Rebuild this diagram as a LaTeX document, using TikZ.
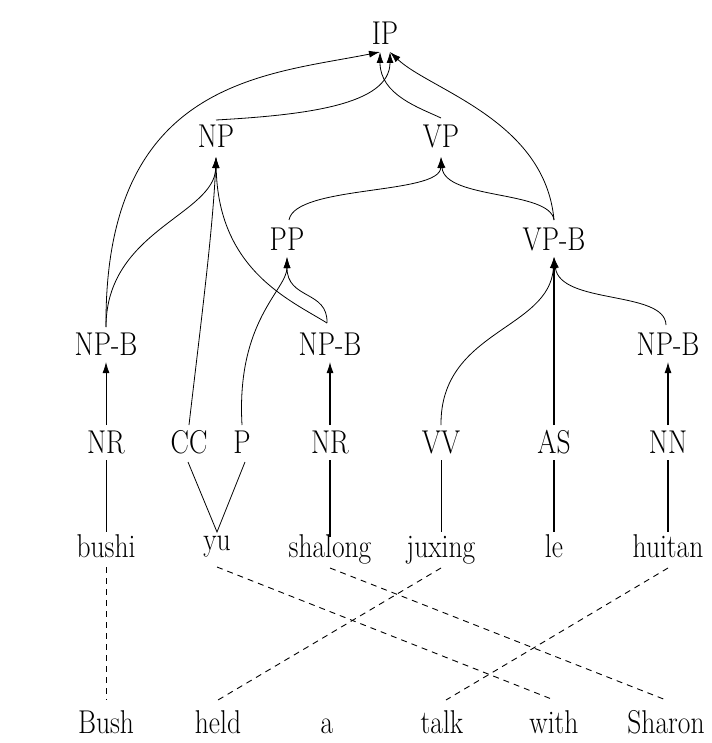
\documentclass[tikz,border=0pt]{standalone}
\usepackage{graphicx}
\usetikzlibrary{arrows.meta}
\newcommand\stx[1]{\scalebox{1}[1.2]{#1}}
\tikzset{
  lab/.style={anchor=base, inner sep=0pt, font=\fontsize{27.5}{32}\selectfont},
  tr/.style={line width=0.8pt, black},
  arr/.style={tr, -{Latex[length=11pt,width=7pt]}},
  vline/.style={line width=1.1pt, black},
  al/.style={line width=0.9pt, black, dash pattern=on 6pt off 5pt},
}
\begin{document}
\begin{tikzpicture}[x=1pt,y=-1pt]
\useasboundingbox (0,0) rectangle (711,743);
% tree labels
\node[lab] (ip)   at (385,45)  {\stx{IP}};
\node[lab] (np)   at (216,148) {\stx{NP}};
\node[lab] (vp)   at (441,148) {\stx{VP}};
\node[lab] (pp)   at (287,250) {\stx{PP}};
\node[lab] (vpb)  at (554,250) {\stx{VP-B}};
\node[lab] (npbA) at (106,355) {\stx{NP-B}};
\node[lab] (npbB) at (330,355) {\stx{NP-B}};
\node[lab] (npbC) at (668,355) {\stx{NP-B}};
% POS
\node[lab] (nrA) at (106,453) {\stx{NR}};
\node[lab] (cc)  at (189,453) {\stx{CC}};
\node[lab] (pq)  at (242,453) {\stx{P}};
\node[lab] (nrB) at (330,453) {\stx{NR}};
\node[lab] (vv)  at (441,453) {\stx{VV}};
\node[lab] (as)  at (554,453) {\stx{AS}};
\node[lab] (nn)  at (668,453) {\stx{NN}};
% words
\node[lab] (bushi)   at (106,557) {\stx{bushi}};
\node[lab] (yu)      at (217,550) {\stx{yu}};
\node[lab] (shalong) at (330,557) {\stx{shalong}};
\node[lab] (juxing)  at (441,557) {\stx{juxing}};
\node[lab] (le)      at (554,557) {\stx{le}};
\node[lab] (huitan)  at (668,557) {\stx{huitan}};
% english
\node[lab] (bush)   at (106,733) {\stx{Bush}};
\node[lab] (held)   at (218,733) {\stx{held}};
\node[lab] (a)      at (327,733) {\stx{a}};
\node[lab] (talk)   at (442,733) {\stx{talk}};
\node[lab] (with)   at (554,733) {\stx{with}};
\node[lab] (sharon) at (666,733) {\stx{Sharon}};

% edges to IP
\draw[arr] ([yshift=28pt]npbA.base) .. controls (104,80) and (265,75) .. ([xshift=-5pt,yshift=-7pt]ip.base);
\draw[arr] ([yshift=28pt]np.base) .. controls (305,115) and (390,105) .. ([xshift=5pt,yshift=-7pt]ip.base);
\draw[arr] ([yshift=30pt]vp.base) .. controls (420,108) and (380,95) .. ([xshift=-5pt,yshift=-7pt]ip.base);
\draw[arr] ([yshift=30pt]vpb.base) .. controls (545,120) and (430,90) .. ([xshift=5pt,yshift=-7pt]ip.base);
% edges to NP
\draw[arr] ([yshift=28pt]npbA.base) .. controls (106,230) and (215,215) .. ([yshift=-9pt]np.base);
\draw[arr] ([yshift=28pt]cc.base) .. controls (200,330) and (213,230) .. ([yshift=-9pt]np.base);
\draw[arr] ([xshift=-3pt,yshift=32pt]npbB.base) .. controls (290,300) and (218,270) .. ([yshift=-9pt]np.base);
% edges to PP
\draw[arr] ([yshift=28pt]pq.base) .. controls (236,320) and (287,290) .. ([yshift=-7pt]pp.base);
\draw[arr] ([xshift=-3pt,yshift=32pt]npbB.base) .. controls (328,290) and (287,300) .. ([yshift=-7pt]pp.base);
% edges to VP
\draw[arr] ([xshift=2pt,yshift=30pt]pp.base) .. controls (295,185) and (440,195) .. ([yshift=-9pt]vp.base);
\draw[arr] ([yshift=30pt]vpb.base) .. controls (550,190) and (445,200) .. ([yshift=-9pt]vp.base);
% edges to VP-B
\draw[arr] ([yshift=28pt]vv.base) .. controls (440,330) and (550,330) .. ([yshift=-7pt]vpb.base);
\draw[arr, line width=1.1pt] ([yshift=28pt]as.base) -- ([yshift=-7pt]vpb.base);
\draw[arr] ([xshift=-2pt,yshift=30pt]npbC.base) .. controls (665,290) and (560,305) .. ([yshift=-7pt]vpb.base);
% edges to NP-B
\draw[arr] ([yshift=28pt]nrA.base) -- ([yshift=-7pt]npbA.base);
\draw[arr, line width=1.1pt] ([yshift=28pt]nrB.base) -- ([yshift=-7pt]npbB.base);
\draw[arr, line width=1.1pt] ([yshift=28pt]nn.base) -- ([yshift=-7pt]npbC.base);
% POS to words
\draw[tr] ([yshift=-7pt]nrA.base) -- ([yshift=25pt]bushi.base);
\draw[tr] ([xshift=-1pt,yshift=-9pt]cc.base) -- ([yshift=18pt]yu.base) -- ([xshift=3pt,yshift=-9pt]pq.base);
\draw[vline] ([yshift=-7pt]nrB.base) -- ([yshift=20pt]shalong.base);
\draw[tr] ([yshift=-7pt]vv.base) -- ([yshift=25pt]juxing.base);
\draw[vline] ([yshift=-7pt]as.base) -- ([yshift=25pt]le.base);
\draw[vline] ([yshift=-7pt]nn.base) -- ([yshift=25pt]huitan.base);
% alignments
\draw[al] ([yshift=-10pt]bushi.base) -- ([yshift=33pt]bush.base);
\draw[al] ([yshift=-17pt]yu.base) -- ([yshift=33pt]with.base);
\draw[al] ([yshift=-11pt]shalong.base) -- ([yshift=33pt]sharon.base);
\draw[al] ([yshift=-11pt]juxing.base) -- ([yshift=33pt]held.base);
\draw[al] ([yshift=-11pt]huitan.base) -- ([xshift=4pt,yshift=33pt]talk.base);
\end{tikzpicture}
\end{document}
